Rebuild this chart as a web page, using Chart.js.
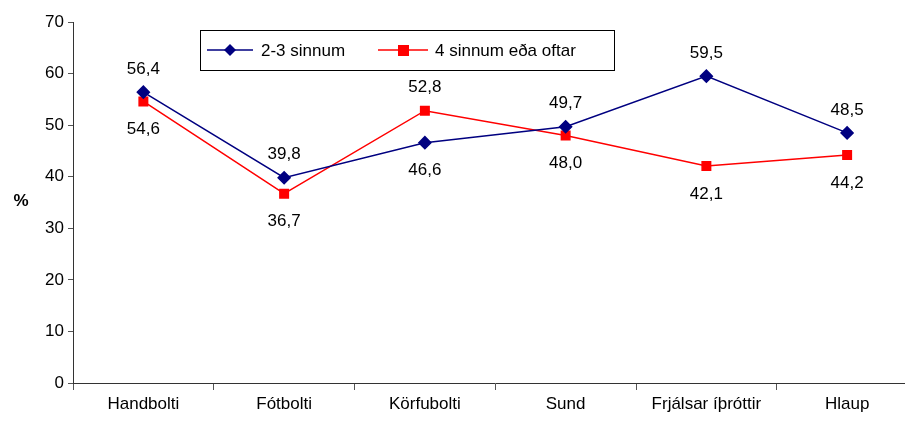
<!DOCTYPE html>
<html>
<head>
<meta charset="utf-8">
<script src="https://cdn.jsdelivr.net/npm/chart.js@4.4.0/dist/chart.umd.min.js"></script>
<style>
  html, body { margin: 0; padding: 0; background: #fff; overflow: hidden; }
  #wrap { width: 925px; height: 424px; position: relative; }
</style>
</head>
<body>
<div id="wrap"><canvas id="myChart"></canvas></div>
<script>
// 데이터
const categories = ["Handbolti", "Fótbolti", "Körfubolti", "Sund", "Frjálsar íþróttir", "Hlaup"];
const series1 = [56.4, 39.8, 46.6, 49.7, 59.5, 48.5];
const series2 = [54.6, 36.7, 52.8, 48.0, 42.1, 44.2];
const seriesNames = ["2-3 sinnum", "4 sinnum eða oftar"];
const yTicks = [0, 10, 20, 30, 40, 50, 60, 70];

const FONT = "Liberation Sans, Arial, sans-serif";

// 값 라벨 (높은 값은 위, 낮은 값은 아래)
const valueLabels = {
  id: "valueLabels",
  afterDatasetsDraw(chart) {
    const ctx = chart.ctx;
    ctx.save();
    ctx.font = "17px " + FONT;
    ctx.fillStyle = "#000";
    ctx.textAlign = "center";
    ctx.textBaseline = "middle";
    chart.data.datasets.forEach((ds, di) => {
      const other = chart.data.datasets[1 - di].data;
      chart.getDatasetMeta(di).data.forEach((pt, i) => {
        const above = ds.data[i] >= other[i];
        const y = above ? pt.y - 23 : pt.y + 28;
        ctx.fillText(ds.data[i].toFixed(1).replace(".", ","), pt.x, y);
      });
    });
    ctx.restore();
  },
};

// 범례 박스 + % 라벨
const boxLegend = {
  id: "boxLegend",
  afterDraw(chart) {
    const ctx = chart.ctx;
    ctx.save();
    ctx.strokeStyle = "#000";
    ctx.lineWidth = 1;
    ctx.strokeRect(200.5, 30.5, 414, 40);
    ctx.font = "17px " + FONT;
    ctx.textBaseline = "middle";
    ctx.fillStyle = "#000";
    const cy = 50;
    // 시리즈 1
    ctx.strokeStyle = "#000080";
    ctx.lineWidth = 1.5;
    ctx.beginPath(); ctx.moveTo(207, cy); ctx.lineTo(253, cy); ctx.stroke();
    ctx.fillStyle = "#000080";
    ctx.beginPath();
    ctx.moveTo(230, cy - 6); ctx.lineTo(236, cy); ctx.lineTo(230, cy + 6); ctx.lineTo(224, cy);
    ctx.closePath(); ctx.fill();
    ctx.fillStyle = "#000";
    ctx.fillText(seriesNames[0], 261, cy + 1);
    // 시리즈 2
    ctx.strokeStyle = "#ff0000";
    ctx.beginPath(); ctx.moveTo(378, cy); ctx.lineTo(428, cy); ctx.stroke();
    ctx.fillStyle = "#ff0000";
    ctx.fillRect(398, cy - 5, 11, 11);
    ctx.fillStyle = "#000";
    ctx.fillText(seriesNames[1], 435, cy + 1);
    // y축 제목
    ctx.font = "bold 17px " + FONT;
    ctx.textAlign = "center";
    ctx.fillText("%", 21, 201);
    ctx.restore();
  },
};

const ctx = document.getElementById("myChart").getContext("2d");
new Chart(ctx, {
  type: "line",
  data: {
    labels: categories,
    datasets: [
      {
        label: seriesNames[0],
        data: series1,
        borderColor: "#000080",
        backgroundColor: "#000080",
        borderWidth: 1.5,
        pointStyle: "rectRot",
        pointRadius: 6,
        pointHoverRadius: 6,
        fill: false,
      },
      {
        label: seriesNames[1],
        data: series2,
        borderColor: "#ff0000",
        backgroundColor: "#ff0000",
        borderWidth: 1.5,
        pointStyle: "rect",
        pointRadius: 6,
        pointHoverRadius: 6,
        fill: false,
      },
    ],
  },
  options: {
    responsive: true,
    maintainAspectRatio: false,
    animation: false,
    layout: { padding: { top: 22, right: 2, left: 0, bottom: 0 } },
    plugins: {
      legend: { display: false },
      tooltip: { enabled: false },
    },
    scales: {
      x: {
        offset: true,
        grid: { display: true, drawOnChartArea: false, offset: true, tickLength: 7, color: "#555" },
        border: { display: true, color: "#333", width: 1 },
        ticks: { color: "#000", font: { family: FONT, size: 17 }, maxRotation: 0, padding: 4 },
        afterFit: (scale) => { scale.height = 41; },
      },
      y: {
        min: 0,
        max: 70,
        afterBuildTicks: (scale) => { scale.ticks = yTicks.map((v) => ({ value: v })); },
        grid: { display: true, drawOnChartArea: false, tickLength: 5, color: "#555" },
        border: { display: true, color: "#333", width: 1 },
        ticks: { color: "#000", font: { family: FONT, size: 17 }, padding: 4 },
        afterFit: (scale) => { scale.width = 73; },
      },
    },
  },
  plugins: [valueLabels, boxLegend],
});
</script>
</body>
</html>
